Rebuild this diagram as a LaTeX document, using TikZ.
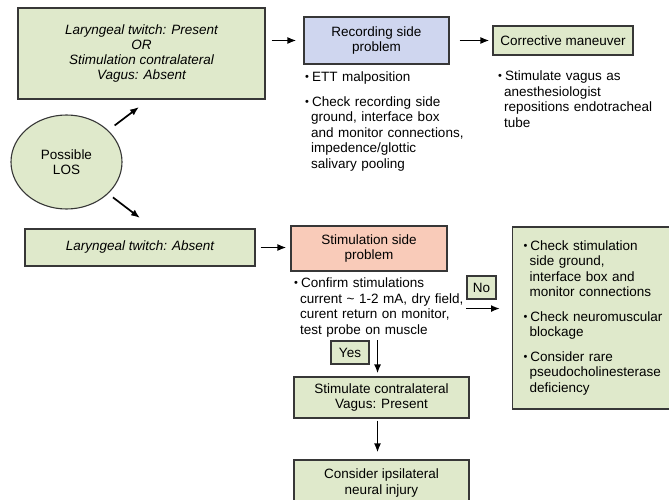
\documentclass[tikz,border=0pt]{standalone}
\usepackage{fontspec}
\setmainfont{Liberation Sans}
\usetikzlibrary{calc,shapes.geometric,arrows.meta}
\definecolor{boxgreen}{RGB}{223,233,203}
\definecolor{boxblue}{RGB}{207,214,239}
\definecolor{boxsalmon}{RGB}{249,203,185}
\definecolor{edgegray}{RGB}{55,55,55}
\newcommand{\dfont}{\fontsize{13.5}{15.5}\selectfont}
\newcommand{\bpt}{\hangindent=6pt\hangafter=1\noindent\raisebox{1pt}{\fontsize{11}{11}\selectfont\textbullet}\hspace{3pt}}
\newcommand{\bgap}{\par\vspace{9pt}}

\begin{document}
\begin{tikzpicture}[x=1pt, y=-1pt, >={Latex[length=9pt,width=7pt]},
    every node/.style={font=\dfont},
    box/.style={draw=edgegray, line width=1.1pt, fill=boxgreen, align=center, inner sep=2pt},
    note/.style={anchor=north west, inner sep=0pt, text width=#1, align=left},
    arr/.style={->, line width=1.7pt}]
  \useasboundingbox (0,0) rectangle (669,500);

  \node[box, minimum width=247pt, minimum height=91pt, font=\fontsize{13.5}{14.7}\selectfont\itshape] (cond) at (141.5,53.5)
    {Laryngeal twitch: Present\\OR\\Stimulation contralateral\\Vagus: Absent};
  \node[box, fill=boxblue, minimum width=145pt, minimum height=47pt] (rec) at (376.5,40.5) {Recording side\\problem};
  \node[box, minimum width=140pt, minimum height=29pt] (corr) at (563,40.5) {Corrective maneuver};
  \node[note=190pt] (recnote) at (305,72) {\bpt ETT malposition\bgap
    \bpt Check recording side\newline ground, interface box\newline and monitor connections,\newline
    impedence/glottic\newline salivary pooling\par};
  \node[note=180pt] (corrnote) at (498,71) {\bpt Stimulate vagus as\newline anesthesiologist\newline
    repositions endotracheal\newline tube\par};

  \node[ellipse, draw=edgegray, line width=1.1pt, fill=boxgreen, minimum width=111pt, minimum height=94pt,
    align=center] (los) at (66.5,162) {Possible\\LOS};
  \coordinate (upend) at (139,107);
  \coordinate (downend) at (140,218);

  \node[box, minimum width=230pt, minimum height=37pt, font=\dfont\itshape] (absent) at (140,247.5) {Laryngeal twitch: Absent};
  \node[box, fill=boxsalmon, minimum width=156pt, minimum height=45pt] (stim) at (369,248.5) {Stimulation side\\problem};
  \node[note=190pt] (stimnote) at (294,278) {\bpt Confirm stimulations\newline current \textasciitilde\ 1-2 mA, dry field,\newline
    curent return on monitor,\newline test probe on muscle\par};
  \node[box, minimum width=29pt, minimum height=23pt, inner sep=0pt] (no) at (481.5,287.5) {No};
  \node[box, anchor=west, minimum height=182pt, text width=145pt, align=left, inner xsep=11pt] (checks) at (512,318)
    {\bpt Check stimulation\newline side ground,\newline interface box and\newline monitor connections\bgap
     \bpt Check neuromuscular\newline blockage\bgap
     \bpt Consider rare\newline pseudocholinesterase\newline deficiency\par};
  \node[box, minimum width=38pt, minimum height=23pt, inner sep=0pt] (yes) at (350,352.5) {Yes};
  \node[box, minimum width=175pt, minimum height=41pt] (contra) at (381.5,397.5) {Stimulate contralateral\\Vagus: Present};
  \node[box, minimum width=175pt, minimum height=46pt] (ipsi) at (381.5,483) {Consider ipsilateral\\neural injury};

  \draw[arr, shorten <=6pt, shorten >=7pt] (cond.east |- rec.west) -- (rec.west);
  \draw[arr, shorten <=10pt, shorten >=3pt] (rec) -- (corr);
  \draw[arr, shorten <=8pt] (los) -- (upend);
  \draw[arr, shorten <=6pt] (los) -- (downend);
  \draw[arr, shorten <=5pt, shorten >=4pt] (absent.east) -- (absent.east -| stim.west);
  \draw[arr, shorten >=12pt] ([yshift=-9pt]no.south west) -- ([yshift=-9pt]no.south west -| checks.west);
  \draw[arr, shorten >=3pt] ([xshift=8pt]yes.north east) -- ([xshift=8pt]yes.north east |- contra.north);
  \draw[arr, shorten <=2pt, shorten >=7pt] ([xshift=-4pt]contra.south) -- ([xshift=-4pt]ipsi.north);
\end{tikzpicture}
\end{document}
